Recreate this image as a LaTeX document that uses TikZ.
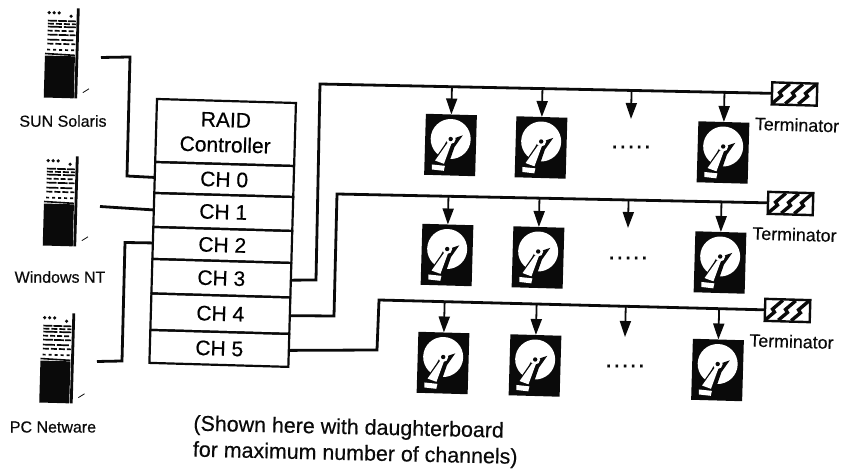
\documentclass[tikz,border=0pt]{standalone}
\usepackage{fontspec}
\setmainfont[FakeBold=0.45]{Liberation Sans}
\usetikzlibrary{arrows.meta,calc,positioning}
\definecolor{ink}{HTML}{0A0A0A}
\tikzset{line width=.8pt,
  tilt/.style={rotate=-1.65},
  chanbox/.style={draw=ink,line width=2.2pt,tilt,minimum width=139pt,inner sep=0pt,outer sep=0pt,align=center,font=\fontsize{21}{25}\selectfont},
  srvbox/.style={tilt,minimum width=34pt,minimum height=92pt,inner sep=0pt,outer sep=0pt},
  diskbox/.style={fill=ink,tilt,minimum width=51pt,minimum height=61pt,inner sep=0pt,outer sep=0pt},
  termbox/.style={draw=ink,line width=2.4pt,fill=white,tilt,minimum width=45pt,minimum height=22pt,inner sep=0pt,outer sep=0pt},
  hostlabel/.style={font=\fontsize{16}{19}\selectfont,text=ink,inner sep=0pt},
  termlabel/.style={font=\fontsize{17.8}{20}\selectfont,text=ink,inner sep=0pt,tilt},
  dotrow/.style={font=\fontsize{25}{25}\selectfont\addfontfeature{LetterSpace=5},text=ink,inner sep=0pt},
  link/.style={draw=ink,line width=2.8pt,line join=miter},
  feed/.style={draw=ink,line width=1.8pt,-{Triangle[length=16pt,width=11pt]}},
  platter/.pic={
    \fill[white] (0,-6) circle (20);
    \fill[ink] (12,-10) -- (4,2) -- (-2,21) -- (-17,17) -- (-6,0) -- (-4,-4) -- cycle;
    \fill[white] (1,-2) -- (-6,19) -- (-15,16) -- (-3,-2) -- cycle;
    \fill[white] (0,-6) circle (5);
    \fill[ink] (0,-6) circle (2.2);
    \fill[white] (-18,20) -- (-5,21) -- (-6,26) -- (-18,25) -- cycle;},
  hatching/.pic={
    \foreach \dx in {-14,-1,12}{
      \draw[ink,line width=3.4pt] (\dx-8,10) -- (\dx+1,2) -- (\dx-1,-1) -- (\dx+9,-10);}},
  rack/.pic={
    \fill[ink] (-17,2) rectangle (13,44);
    \draw[ink,line width=2.8pt] (15,-46) -- (15,44);
    \fill[ink] (-14,-41) circle (1.8) (-9,-41) circle (1.8) (-4,-41) circle (1.8) (8,-38) circle (1.8);
    \foreach \yy/\dashon/\dashoff in {-33/9/1,-30/6/2,-27/14/2,-23/5/2,-19/10/1,-14/12/2,-10/6/2,-4/3/3}{
      \draw[ink,line width=1.7pt,dash pattern=on \dashon pt off \dashoff pt] (-15,\yy) -- (13,\yy);}
    \draw[ink,line width=1.6pt] (-17,0) -- (13,1);
    \draw[ink,line width=.8pt] (22,38) -- (28,34);}}
\begin{document}
\begin{tikzpicture}[x=1pt,y=-1pt]
\useasboundingbox (0,0) rectangle (843,470);

\node[srvbox] (srvSun) at (62,54) {};\pic[tilt] at (srvSun) {rack};
\node[srvbox] (srvWin) at (61,202) {};\pic[tilt] at (srvWin) {rack};
\node[srvbox] (srvNet) at (57.5,359) {};\pic[tilt] at (srvNet) {rack};
\node[hostlabel] (nameSun) at (63,121) {SUN Solaris};
\node[hostlabel] (nameWin) at (60,277) {Windows NT};
\node[hostlabel] (nameNet) at (53,427) {PC Netware};

\node[chanbox,minimum height=63pt,anchor=north west] (raid) at (157,99) {RAID\\Controller};
\node[chanbox,minimum height=31pt,below=0pt of raid] (chan0) {CH 0};
\node[chanbox,minimum height=34pt,below=0pt of chan0] (chan1) {CH 1};
\node[chanbox,minimum height=32pt,below=0pt of chan1] (chan2) {CH 2};
\node[chanbox,minimum height=34.5pt,below=0pt of chan2] (chan3) {CH 3};
\node[chanbox,minimum height=36.5pt,below=0pt of chan3] (chan4) {CH 4};
\node[chanbox,minimum height=33pt,below=0pt of chan4] (chan5) {CH 5};

\coordinate (portSun) at ($(srvSun.east)+(22,3)$);
\coordinate (portWin) at ($(srvWin.east)+(22,4)$);
\coordinate (portNet) at ($(srvNet.east)+(22.5,2)$);
\draw[link] (portSun) -- (130,57) -- (127,176) -- (chan0.west);
\draw[link] (portWin) -- (chan1.west);
\draw[link] (portNet) -- (122,361) -- (125,242.5) -- (chan2.west);

\node[termbox] (termA) at (794.5,94) {};\pic[tilt] at (termA) {hatching};
\node[termbox] (termB) at (790.5,203.5) {};\pic[tilt] at (termB) {hatching};
\node[termbox] (termC) at (787.5,310.5) {};\pic[tilt] at (termC) {hatching};
\node[termlabel,below=13pt of termA,xshift=3pt] (nameTermA) {Terminator};
\node[termlabel,below=13pt of termB,xshift=4.5pt] (nameTermB) {Terminator};
\node[termlabel,below=13pt of termC,xshift=4.5pt] (nameTermC) {Terminator};

\coordinate (cornerA) at (320,84);\coordinate (cornerB) at (337,194);\coordinate (cornerC) at (379,300);
\draw[link] (chan3.east) -- (316,280) -- (cornerA) -- (termA.west);
\draw[link] (chan4.east) -- (334,316) -- (cornerB) -- (termB.west);
\draw[link] (chan5.east) -- (377,350) -- (cornerC) -- (termC.west);

\foreach \row/\col/\px/\py in {A/1/450.5/145,A/2/541/147.5,A/4/723/152.5,
    B/1/447/255,B/2/538/257.5,B/4/720/262.5,
    C/1/443/363,C/2/535/365.5,C/4/717.5/370}{
  \node[diskbox] (disk\row\col) at (\px,\py) {};
  \pic[tilt] at (disk\row\col) {platter};
  \draw[feed] ($(corner\row)!(disk\row\col.north)!(term\row.west)$) -- (disk\row\col.north);}

\foreach \row/\px/\py/\dy in {A/631/119/147,B/628/228/258,C/625/337/366}{
  \coordinate (free\row) at (\px,\py);
  \draw[feed] ($(corner\row)!(free\row)!(term\row.west)$) -- (free\row);
  \node[dotrow] (dots\row) at (\px,\dy) {.....};}

\node[anchor=west,align=left,inner sep=0pt,rotate=-1.3,text=ink,font=\fontsize{21.4}{26}\selectfont] (caption) at (193,438) {(Shown here with daughterboard\\ for maximum number of channels)};
\end{tikzpicture}
\end{document}
